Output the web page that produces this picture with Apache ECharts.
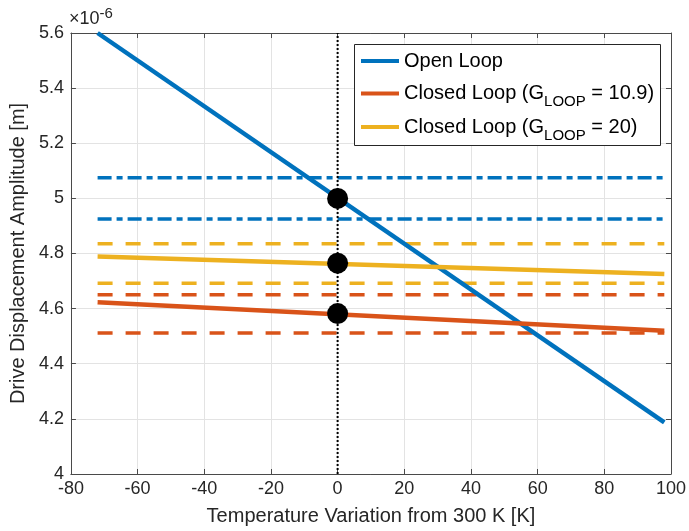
<!DOCTYPE html>
<html><head><meta charset="utf-8">
<script src="https://cdn.jsdelivr.net/npm/echarts@6/dist/echarts.min.js"></script>
<style>html,body{margin:0;padding:0;background:#fff}#c{width:689px;height:531px}</style>
</head><body><div id="c"></div>
<script>
// ---- data (y in units of 1e-6 m) ----
const xTicks = [-80, -60, -40, -20, 0, 20, 40, 60, 80, 100];
const yTicks = [4, 4.2, 4.4, 4.6, 4.8, 5, 5.2, 5.4, 5.6];
const tempRange = [-72, 98];
const openLoop = [5.6, 4.187];
const closed109 = [4.623, 4.52];
const closed20 = [4.789, 4.726];
const openBounds = [5.075, 4.925];
const closed109Bounds = [4.65, 4.512];
const closed20Bounds = [4.835, 4.692];
const nominalT = 0;
const nominalVals = [5.0, 4.765, 4.582];
const legendNames = ['Open Loop', 'Closed Loop (G_LOOP = 10.9)', 'Closed Loop (G_LOOP = 20)'];

const C_BLUE = '#0072BD', C_ORANGE = '#D95319', C_YELLOW = '#EDB120';
const TXT = '#262626', AX = '#4a4a4a', GRID = '#e3e3e3';

const pair = vals => tempRange.map((t, i) => [t, vals[i]]);
const flat = v => tempRange.map(t => [t, v]);

const series = [];
openBounds.forEach(v => series.push({type: 'line', data: flat(v), symbol: 'none', silent: true,
  lineStyle: {color: C_BLUE, width: 3.5, type: [14, 5, 6, 5]}, z: 2}));
closed20Bounds.forEach(v => series.push({type: 'line', data: flat(v), symbol: 'none', silent: true,
  lineStyle: {color: C_YELLOW, width: 3.5, type: [15, 13]}, z: 2}));
closed109Bounds.forEach(v => series.push({type: 'line', data: flat(v), symbol: 'none', silent: true,
  lineStyle: {color: C_ORANGE, width: 3.5, type: [15, 13]}, z: 2}));
series.push({name: legendNames[0], type: 'line', data: pair(openLoop), symbol: 'none',
  itemStyle: {color: C_BLUE}, lineStyle: {color: C_BLUE, width: 4.5}, z: 2});
series.push({name: legendNames[1], type: 'line', data: pair(closed109), symbol: 'none',
  itemStyle: {color: C_ORANGE}, lineStyle: {color: C_ORANGE, width: 4.5}, z: 2});
series.push({name: legendNames[2], type: 'line', data: pair(closed20), symbol: 'none',
  itemStyle: {color: C_YELLOW}, lineStyle: {color: C_YELLOW, width: 4.5}, z: 2});
series.push({type: 'line', data: [[nominalT, yTicks[0]], [nominalT, yTicks[yTicks.length - 1]]], symbol: 'none',
  lineStyle: {color: '#000', width: 2, type: [2, 2]}, z: 3});
series.push({type: 'scatter', data: nominalVals.map(v => [nominalT, v]), symbol: 'circle', symbolSize: 21,
  itemStyle: {color: '#000', opacity: 1}, z: 3});

const richLegend = {
  m: {fontSize: 20, lineHeight: 22, color: '#000', fontFamily: 'Liberation Sans'},
  s: {fontSize: 15, lineHeight: 22, color: '#000', fontFamily: 'Liberation Sans', padding: [17, 0, 0, 0]}
};
function legendFmt(name) {
  const m = name.match(/^(.*)_LOOP(.*)$/);
  if (!m) return '{m|' + name + '}';
  return '{m|' + m[1] + '}{s|LOOP}{m|' + m[2] + '}';
}
const legendTops = [51, 77.5, 111];
const legends = legendNames.map((n, i) => ({
  data: [n], left: 361, top: legendTops[i], orient: 'vertical', padding: 0,
  icon: 'rect', itemWidth: 38, itemHeight: 4, selectedMode: false, z: 5,
  formatter: legendFmt, textStyle: {rich: richLegend, fontSize: 20, color: '#000'}
}));

const xmin = xTicks[0], xmax = xTicks[xTicks.length - 1], xint = xTicks[1] - xTicks[0];
const ymin = yTicks[0], ymax = yTicks[yTicks.length - 1], yint = +(yTicks[1] - yTicks[0]).toFixed(6);
const fmtY = v => String(Math.round(v * 10) / 10);

const chart = echarts.init(document.getElementById('c'), null, {renderer: 'canvas'});
chart.setOption({
  animation: false,
  backgroundColor: '#fff',
  textStyle: {fontFamily: 'Liberation Sans'},
  grid: {left: 68, right: 16, top: 33, bottom: 54, containLabel: false},
  title: {text: '{a|×10}{b|-6}', left: 69, top: 8, padding: 0,
    textStyle: {fontWeight: 'normal', rich: {
      a: {fontSize: 18, color: TXT, fontFamily: 'Liberation Sans', fontWeight: 'normal', lineHeight: 22},
      b: {fontSize: 15, color: TXT, fontFamily: 'Liberation Sans', fontWeight: 'normal', lineHeight: 22, padding: [0, 0, 11, 0]}
    }}},
  legend: legends,
  graphic: [{type: 'rect', shape: {x: 354.5, y: 44.5, width: 306, height: 101}, z: 4,
    style: {fill: '#fff', stroke: '#262626', lineWidth: 1}}],
  xAxis: [{
    type: 'value', min: xmin, max: xmax, interval: xint, position: 'bottom',
    name: 'Temperature Variation from 300 K [K]', nameLocation: 'middle', nameGap: 32,
    nameTextStyle: {fontSize: 20, color: TXT, fontFamily: 'Liberation Sans'},
    axisLine: {show: true, onZero: false, lineStyle: {color: AX, width: 1}},
    axisTick: {show: true, inside: true, length: 5, lineStyle: {color: AX}},
    axisLabel: {fontSize: 18, color: TXT, margin: 6, fontFamily: 'Liberation Sans'},
    splitLine: {show: true, lineStyle: {color: GRID, width: 1}}
  }, {
    type: 'value', min: xmin, max: xmax, interval: xint, position: 'top',
    axisLine: {show: true, onZero: false, lineStyle: {color: AX, width: 1}},
    axisTick: {show: true, inside: true, length: 5, lineStyle: {color: AX}},
    axisLabel: {show: false}, splitLine: {show: false}
  }],
  yAxis: [{
    type: 'value', min: ymin, max: ymax, interval: yint, position: 'left',
    name: 'Drive Displacement Amplitude [m]', nameLocation: 'middle', nameGap: 39,
    nameTextStyle: {fontSize: 20, color: TXT, fontFamily: 'Liberation Sans'},
    axisLine: {show: true, onZero: false, lineStyle: {color: AX, width: 1}},
    axisTick: {show: true, inside: true, length: 5, lineStyle: {color: AX}},
    axisLabel: {fontSize: 18, color: TXT, margin: 7, formatter: fmtY, fontFamily: 'Liberation Sans'},
    splitLine: {show: true, lineStyle: {color: GRID, width: 1}}
  }, {
    type: 'value', min: ymin, max: ymax, interval: yint, position: 'right',
    axisLine: {show: true, onZero: false, lineStyle: {color: AX, width: 1}},
    axisTick: {show: true, inside: true, length: 5, lineStyle: {color: AX}},
    axisLabel: {show: false}, splitLine: {show: false}
  }],
  series: series
});
</script></body></html>
